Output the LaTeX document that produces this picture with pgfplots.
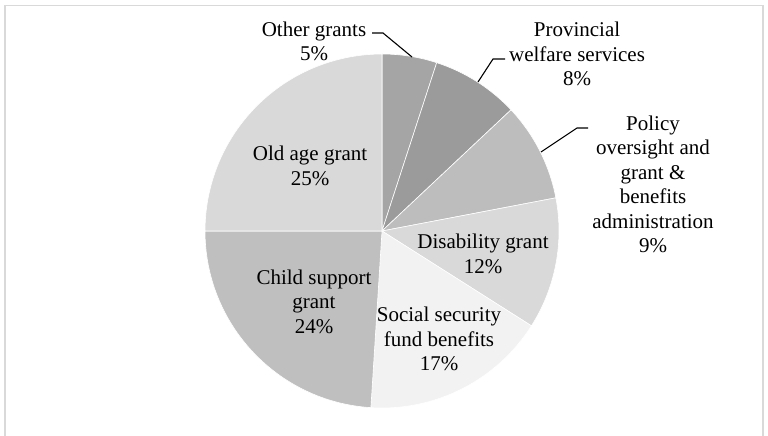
\documentclass[border=0pt]{standalone}
\usepackage{pgfplots}
\usepackage{pgfplotstable}
\pgfplotsset{compat=1.18}
\usepackage{fontspec}
\setmainfont{Liberation Serif}

\definecolor{c0}{HTML}{A5A5A5}
\definecolor{c1}{HTML}{9B9B9B}
\definecolor{c2}{HTML}{BDBDBD}
\definecolor{c3}{HTML}{D9D9D9}
\definecolor{c4}{HTML}{F2F2F2}
\definecolor{c5}{HTML}{BFBFBF}
\definecolor{c6}{HTML}{D9D9D9}
\definecolor{framec}{HTML}{D9D9D9}

\pgfplotstableread{
label pct
other 5
prov 8
policy 9
dis 12
soc 17
child 24
old 25
}\piedata

\begin{document}
\begin{tikzpicture}
\begin{axis}[
  at={(0,0)}, anchor=south west,
  width=768bp, height=436bp, scale only axis,
  xmin=0, xmax=768, ymin=0, ymax=436,
  hide axis, clip=false,
]
% frame
\addplot[framec, line width=1.5bp] coordinates {(5,0) (5,430.5) (763,430.5) (763,0)};
% pie slices from the data table
\pgfplotsextra{
  \gdef\cum{0}
  \foreach \i in {0,...,6}{
    \pgfplotstablegetelem{\i}{pct}\of\piedata
    \pgfmathsetmacro\sa{90-3.6*\cum}
    \pgfmathsetmacro\ea{90-3.6*(\cum+\pgfplotsretval)}
    \fill[c\i, draw=white, line width=0.6bp] (axis cs:382,205) -- ++(\sa:177bp)
      arc[start angle=\sa, end angle=\ea, radius=177bp] -- cycle;
    \pgfmathsetmacro\nc{\cum+\pgfplotsretval}
    \xdef\cum{\nc}
  }
}
% leader lines
\addplot[black, line width=1.1bp] coordinates {(372,403) (383,403) (412,379)};
\addplot[black, line width=1.1bp] coordinates {(505,377) (493,377) (478,354)};
\addplot[black, line width=1.1bp] coordinates {(588,308) (577,308) (541,284)};
% labels
\begin{scope}[every node/.style={align=center, font=\fontsize{21bp}{24.5bp}\selectfont, inner sep=0pt}]
\node at (axis cs:314,394.5) {Other grants\\5\%};
\node at (axis cs:577,382) {Provincial\\welfare services\\8\%};
\node at (axis cs:653,251.5) {Policy\\oversight and\\grant \&\\benefits\\administration\\9\%};
\node at (axis cs:310,270) {Old age grant\\25\%};
\node at (axis cs:483,182) {Disability grant\\12\%};
\node at (axis cs:314,134.5) {Child support\\grant\\24\%};
\node at (axis cs:439,97) {Social security\\fund benefits\\17\%};
\end{scope}
\end{axis}
\pgfresetboundingbox
\path (0,0) rectangle (768bp,436bp);
\end{tikzpicture}
\end{document}
